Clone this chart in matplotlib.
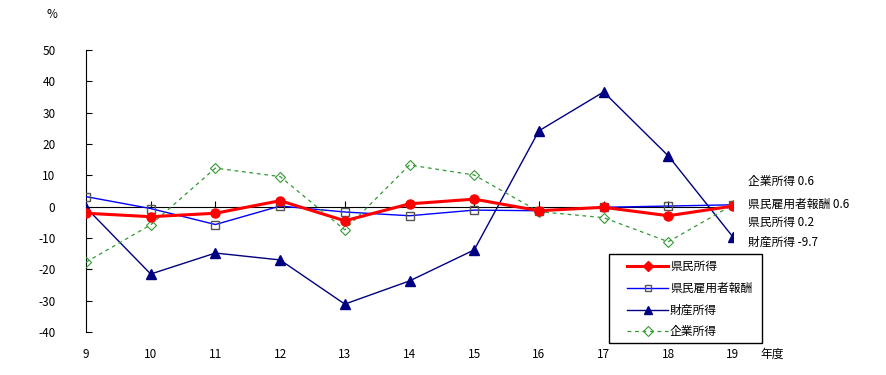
import matplotlib
matplotlib.use("Agg")
import matplotlib.pyplot as plt
from matplotlib.lines import Line2D
from matplotlib.patches import Rectangle

plt.rcParams['font.family'] = ['Noto Sans CJK JP', 'DejaVu Sans']

years = [9, 10, 11, 12, 13, 14, 15, 16, 17, 18, 19]
year_labels = ['9', '10', '11', '12', '13', '14', '15', '16', '17', '18', '19']
kenmin = [-2.1, -3.2, -2.1, 1.9, -4.5, 0.9, 2.4, -1.3, -0.2, -2.9, 0.2]
koyosha = [3.2, -0.6, -5.7, 0.2, -1.7, -2.9, -1.1, -1.3, -0.2, 0.2, 0.6]
zaisan = [-0.3, -21.5, -14.8, -17.0, -31.1, -23.7, -13.8, 24.2, 36.6, 16.2, -9.7]
kigyo = [-17.7, -5.8, 12.3, 9.6, -7.4, 13.3, 10.1, -1.6, -3.5, -11.2, 0.6]
names = ['県民所得', '県民雇用者報酬', '財産所得', '企業所得']
end_labels = ['企業所得 0.6', '県民雇用者報酬 0.6', '県民所得 0.2', '財産所得 -9.7']
yticks = [50, 40, 30, 20, 10, 0, -10, -20, -30, -40]

W, H = 886, 375
fig = plt.figure(figsize=(W / 100, H / 100), dpi=100)
ax = fig.add_axes([86 / W, 1 - 332 / H, (733 - 86) / W, (332 - 50) / H])
ax.set_xlim(9, 19)
ax.set_ylim(-40, 50)

styles = {
    '県民雇用者報酬': dict(color='#0000ff', lw=1, marker='s', ms=6, mfc='none',
                      mec='#555555', mew=1, zorder=3),
    '財産所得': dict(color='#000080', lw=1, marker='^', ms=7.5, mfc='#000080',
                 mec='#000080', zorder=3),
    '企業所得': dict(color='#339933', lw=0.9, ls=(0, (3, 3)), marker='D', ms=5.5,
                 mfc='none', mec='#339933', mew=0.8, zorder=3),
    '県民所得': dict(color='#ff0000', lw=2.2, marker='o', ms=6.5, mfc='#ff0000',
                 mec='#ff0000', zorder=4),
}
ax.plot(years, koyosha, **styles[names[1]])
ax.plot(years, zaisan, **styles[names[2]])
ax.plot(years, kigyo, **styles[names[3]])
ax.plot(years, kenmin, **styles[names[0]])

for s in ['top', 'right']:
    ax.spines[s].set_visible(False)
ax.spines['bottom'].set_position(('data', 0))
ax.spines['bottom'].set_zorder(2)
ax.set_yticks(yticks)
ax.set_yticklabels([str(v) for v in yticks], fontsize=8.5)
ax.set_xticks(years)
ax.tick_params(axis='x', direction='in', length=4, labelbottom=False)
ax.tick_params(axis='y', direction='in', length=4, pad=22)
for yv, lab in zip(years, year_labels):
    ax.text(yv, -0.08, lab, transform=ax.get_xaxis_transform(), ha='center',
            va='center', fontsize=8.5)
fig.text(760 / W, 1 - 354 / H, '年度', ha='left', va='center', fontsize=8.5)
fig.text(52 / W, 1 - 15 / H, '%', ha='center', va='center', fontsize=8.5)

end_y = [181, 204, 222, 242]
for lab, yy in zip(end_labels, end_y):
    fig.text(748 / W, 1 - yy / H, lab, ha='left', va='center', fontsize=8.5)

# legend box drawn manually
fig.patches.append(Rectangle((609 / W, 1 - 343 / H), (762 - 609) / W, (343 - 254) / H,
                             transform=fig.transFigure, fill=False, edgecolor='black',
                             lw=1, zorder=5))
leg_rows = [266, 288, 310, 331]
leg_marker = {'県民所得': ('D', 5, 2.2), '県民雇用者報酬': ('s', 5, 1),
              '財産所得': ('^', 6, 1), '企業所得': ('D', 5, 0.9)}
for nm, yy in zip(names, leg_rows):
    st = dict(styles[nm])
    m, ms, lw = leg_marker[nm]
    st.update(marker=m, ms=ms, lw=lw, zorder=6)
    yf = 1 - yy / H
    fig.add_artist(Line2D([627 / W, 668 / W], [yf, yf], transform=fig.transFigure,
                          markevery=[], **st))
    st2 = dict(st)
    st2['ls'] = 'none'
    fig.add_artist(Line2D([647.5 / W], [yf], transform=fig.transFigure, **st2))
    fig.text(670 / W, yf, nm, ha='left', va='center', fontsize=8.5, zorder=6)

fig.savefig('out.png', dpi=100)
